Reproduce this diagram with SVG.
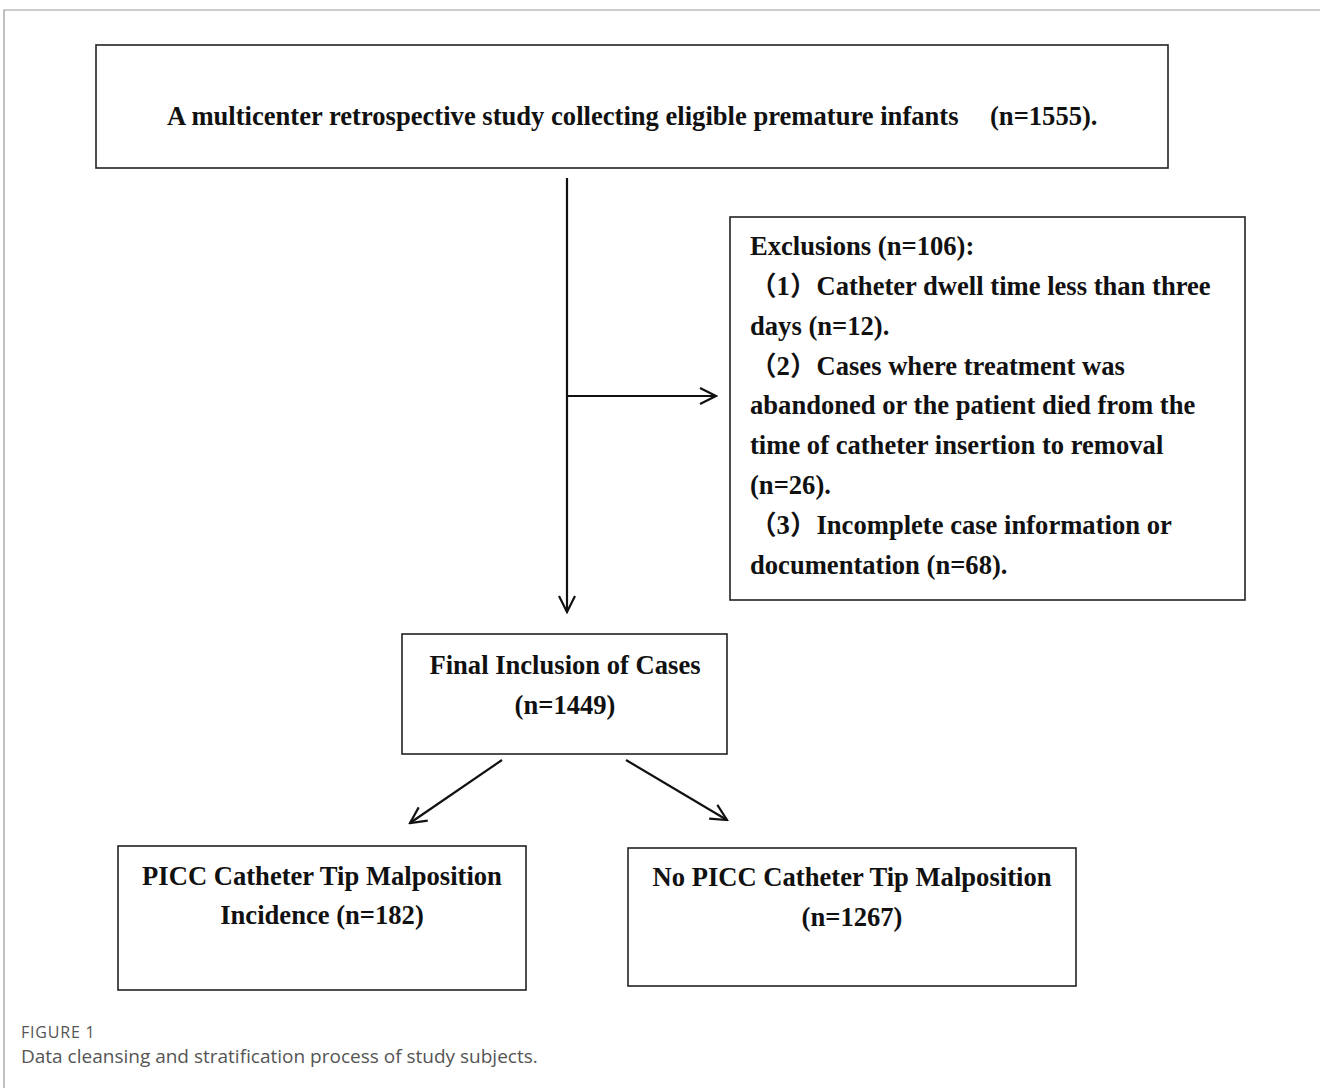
<svg xmlns="http://www.w3.org/2000/svg" width="1320" height="1088" viewBox="0 0 1320 1088">
<style>
.box{fill:#fff;stroke:#222;stroke-width:1.6}
.t{font-family:"Liberation Serif","Times New Roman","Noto Sans CJK SC",serif;font-weight:bold;font-size:26.6px;fill:#111}
.cj{font-family:"Noto Sans CJK SC",sans-serif;font-weight:bold}
.c{text-anchor:middle}
.ln{fill:none;stroke:#111;stroke-width:2.2}
.cap1{font-family:"Open Sans","Noto Sans",sans-serif;font-size:16px;letter-spacing:0.8px;fill:#555}
.cap2{font-family:"Open Sans","Noto Sans",sans-serif;font-size:19px;fill:#555}
</style>
<defs>
<marker id="ah" viewBox="0 0 20 20" refX="18" refY="10" markerWidth="20" markerHeight="20" markerUnits="userSpaceOnUse" orient="auto">
<path d="M2,2 L18,10 L2,18" fill="none" stroke="#111" stroke-width="2.2"/>
</marker>
</defs>
<rect width="1320" height="1088" fill="#fff"/>
<path d="M4,1088 V10 H1320" fill="none" stroke="#999" stroke-width="1.2"/>
<g id="connectors">
<line class="ln" x1="567" y1="178" x2="567" y2="612" marker-end="url(#ah)"/>
<line class="ln" x1="567" y1="396" x2="716" y2="396" marker-end="url(#ah)"/>
<line class="ln" x1="502" y1="760" x2="410" y2="823" marker-end="url(#ah)"/>
<line class="ln" x1="626" y1="760" x2="727" y2="820" marker-end="url(#ah)"/>
</g>
<g id="n1">
<rect class="box" x="96" y="45" width="1072" height="123"/>
<text class="t" x="167" y="125">A multicenter retrospective study collecting eligible premature infants<tspan x="990">(n=1555).</tspan></text>
</g>
<g id="n2">
<rect class="box" x="730" y="217" width="515" height="383"/>
<text class="t" x="750" y="255">Exclusions (n=106):</text>
<text class="t" x="750" y="295"><tspan class="cj">（</tspan>1<tspan class="cj">）</tspan>Catheter dwell time less than three</text>
<text class="t" x="750" y="335">days (n=12).</text>
<text class="t" x="750" y="375"><tspan class="cj">（</tspan>2<tspan class="cj">）</tspan>Cases where treatment was</text>
<text class="t" x="750" y="414">abandoned or the patient died from the</text>
<text class="t" x="750" y="454">time of catheter insertion to removal</text>
<text class="t" x="750" y="494">(n=26).</text>
<text class="t" x="750" y="534"><tspan class="cj">（</tspan>3<tspan class="cj">）</tspan>Incomplete case information or</text>
<text class="t" x="750" y="574">documentation (n=68).</text>
</g>
<g id="n3">
<rect class="box" x="402" y="634" width="325" height="120"/>
<text class="t c" x="565" y="674">Final Inclusion of Cases</text>
<text class="t c" x="565" y="714">(n=1449)</text>
</g>
<g id="n4">
<rect class="box" x="118" y="846" width="408" height="144"/>
<text class="t c" x="322" y="885">PICC Catheter Tip Malposition</text>
<text class="t c" x="322" y="924">Incidence (n=182)</text>
</g>
<g id="n5">
<rect class="box" x="628" y="848" width="448" height="138"/>
<text class="t c" x="852" y="886">No PICC Catheter Tip Malposition</text>
<text class="t c" x="852" y="926">(n=1267)</text>
</g>
<text class="cap1" x="21" y="1038">FIGURE 1</text>
<text class="cap2" x="21" y="1063">Data cleansing and stratification process of study subjects.</text>
</svg>
